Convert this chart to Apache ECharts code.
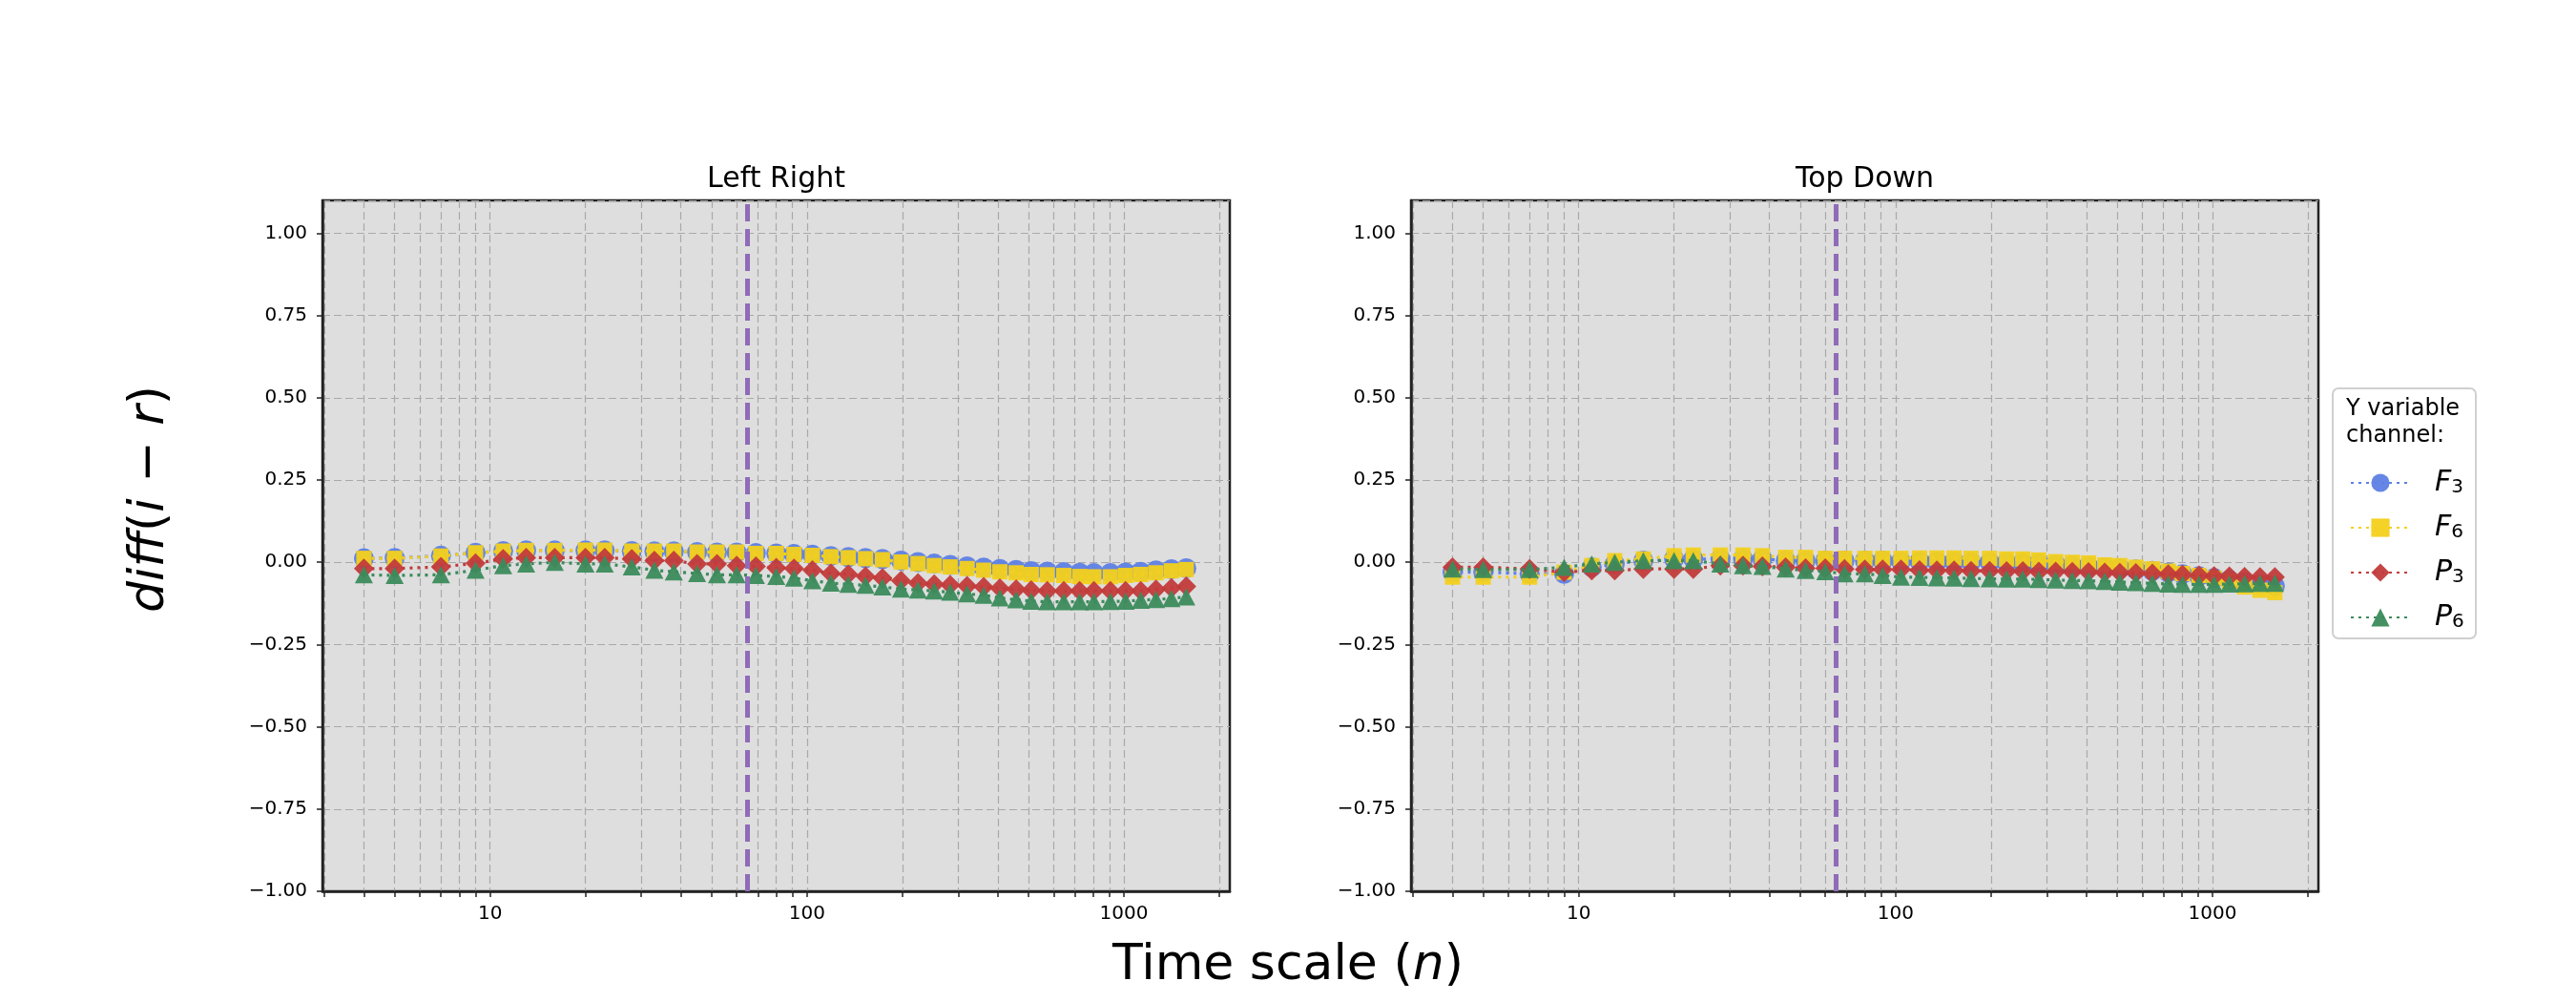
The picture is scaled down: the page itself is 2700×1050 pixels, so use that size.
<!DOCTYPE html>
<html>
<head>
<meta charset="utf-8">
<script src="https://cdn.jsdelivr.net/npm/echarts@6/dist/echarts.min.js"></script>
<style>
  html, body { margin: 0; padding: 0; background: #fff; }
  #chart { width: 2700px; height: 1050px; }
</style>
</head>
<body>
<div id="chart"></div>
<script>
// time scales (n)
var scales = [4, 5, 7, 9, 11, 13, 16, 20, 23, 28, 33, 38, 45, 52, 60, 69, 80, 91, 104, 119, 135,
  153, 173, 198, 224, 252, 283, 320, 361, 406, 457, 510, 573, 646, 725, 804, 906, 1012, 1130, 1262, 1412, 1573];

// Left Right panel
var lrF3 = [0.012, 0.013, 0.020, 0.029, 0.034, 0.036, 0.036, 0.036, 0.036, 0.034, 0.033, 0.033, 0.031, 0.030,
  0.030, 0.028, 0.027, 0.025, 0.023, 0.019, 0.016, 0.013, 0.010, 0.005, 0.001, -0.004, -0.008, -0.012, -0.016,
  -0.020, -0.023, -0.027, -0.028, -0.030, -0.032, -0.033, -0.033, -0.031, -0.029, -0.025, -0.021, -0.018];
var lrF6 = [0.012, 0.012, 0.019, 0.029, 0.034, 0.036, 0.036, 0.037, 0.037, 0.034, 0.034, 0.034, 0.031, 0.031,
  0.031, 0.027, 0.027, 0.024, 0.021, 0.017, 0.014, 0.011, 0.008, 0.001, -0.004, -0.010, -0.014, -0.019, -0.024,
  -0.029, -0.032, -0.037, -0.038, -0.040, -0.043, -0.044, -0.044, -0.040, -0.037, -0.032, -0.026, -0.022];
var lrP3 = [-0.019, -0.019, -0.014, -0.003, 0.010, 0.014, 0.014, 0.014, 0.014, 0.010, 0.005, 0.005, -0.005, -0.005,
  -0.010, -0.012, -0.017, -0.019, -0.024, -0.034, -0.037, -0.043, -0.048, -0.056, -0.063, -0.067, -0.069, -0.072,
  -0.075, -0.079, -0.082, -0.085, -0.087, -0.087, -0.087, -0.087, -0.087, -0.087, -0.087, -0.083, -0.078, -0.073];
var lrP6 = [-0.038, -0.040, -0.038, -0.024, -0.010, -0.005, 0.000, -0.005, -0.005, -0.014, -0.024, -0.029, -0.034,
  -0.038, -0.038, -0.040, -0.043, -0.048, -0.056, -0.063, -0.067, -0.070, -0.075, -0.081, -0.084, -0.087, -0.091,
  -0.096, -0.100, -0.108, -0.114, -0.118, -0.120, -0.120, -0.120, -0.120, -0.119, -0.118, -0.115, -0.113, -0.110, -0.105];

// Top Down panel
var tdF3 = [-0.030, -0.030, -0.035, -0.035, -0.015, -0.005, 0.005, 0.010, 0.010, 0.010, 0.010, 0.010, 0.005, 0.005,
  0.005, 0.005, 0.005, 0.005, 0.003, 0.003, 0.002, 0.002, 0.001, 0.000, -0.001, -0.002, -0.004, -0.007, -0.010,
  -0.012, -0.015, -0.018, -0.022, -0.026, -0.031, -0.036, -0.042, -0.048, -0.054, -0.060, -0.066, -0.072];
var tdF6 = [-0.045, -0.045, -0.045, -0.030, -0.010, 0.005, 0.010, 0.020, 0.022, 0.022, 0.022, 0.020, 0.015, 0.015,
  0.012, 0.012, 0.012, 0.012, 0.012, 0.013, 0.013, 0.013, 0.012, 0.012, 0.010, 0.010, 0.007, 0.002, 0.000,
  -0.002, -0.008, -0.010, -0.015, -0.020, -0.027, -0.034, -0.040, -0.048, -0.058, -0.075, -0.085, -0.092];
var tdP3 = [-0.015, -0.015, -0.020, -0.030, -0.025, -0.025, -0.020, -0.020, -0.020, -0.010, -0.010, -0.012, -0.015,
  -0.018, -0.018, -0.020, -0.022, -0.022, -0.022, -0.024, -0.025, -0.025, -0.026, -0.026, -0.027, -0.027, -0.028,
  -0.028, -0.029, -0.030, -0.031, -0.032, -0.033, -0.034, -0.036, -0.038, -0.040, -0.042, -0.043, -0.044, -0.045, -0.045];
var tdP6 = [-0.020, -0.022, -0.022, -0.015, -0.005, 0.000, 0.005, 0.005, 0.005, -0.005, -0.010, -0.012, -0.020,
  -0.025, -0.028, -0.035, -0.035, -0.040, -0.045, -0.046, -0.047, -0.048, -0.049, -0.050, -0.051, -0.051, -0.052,
  -0.054, -0.055, -0.056, -0.058, -0.060, -0.062, -0.064, -0.066, -0.067, -0.067, -0.067, -0.066, -0.065, -0.064, -0.064];

var panelTitles = ['Left Right', 'Top Down'];
var refScale = 65;
var xLabelValues = [10, 100, 1000];
var xTickValues = [3, 4, 5, 6, 7, 8, 9, 10, 20, 30, 40, 50, 60, 70, 80, 90, 100,
  200, 300, 400, 500, 600, 700, 800, 900, 1000, 2000];

var chart = echarts.init(document.getElementById('chart'));
var FONT = 'DejaVu Sans';
var colors = { F3: '#5d80e4', F6: '#f3d01c', P3: '#c23b3b', P6: '#3b8b5c' };
var symbols = { F3: ['circle', 21], F6: ['rect', 16], P3: ['diamond', 21], P6: ['triangle', [19, 18]] };

function pairs(ys) {
  return scales.map(function (x, i) { return [x, ys[i]]; });
}

var grids = [
  { left: 338, top: 210, width: 951, height: 724 },
  { left: 1479, top: 210, width: 951, height: 724 }
];

var xAxes = [], yAxes = [];
grids.forEach(function (g, i) {
  g.show = true;
  g.backgroundColor = '#dedede';
  g.borderColor = '#222';
  g.borderWidth = 2.5;
  xAxes.push({
    gridIndex: i, type: 'log', logBase: 10, min: 2.96, max: 2158,
    axisLine: { show: true, onZero: false, lineStyle: { color: '#222', width: 2.5 } },
    axisTick: { show: true, customValues: xTickValues, length: 6, lineStyle: { color: '#222', width: 1.5 } },
    axisLabel: {
      customValues: xLabelValues, fontSize: 20, color: '#000', margin: 14, fontFamily: FONT,
      formatter: function (v) { return String(Math.round(v)); }
    },
    splitLine: { show: true, lineStyle: { color: '#a9a9a9', width: 1.2, type: [8, 4] } }
  });
  yAxes.push({
    gridIndex: i, type: 'value', min: -1, max: 1.1, interval: 0.25,
    axisLine: { show: true, onZero: false, lineStyle: { color: '#222', width: 2.5 } },
    axisTick: { show: true, length: 6, lineStyle: { color: '#222', width: 1.5 } },
    axisLabel: {
      fontSize: 20, color: '#000', margin: 16, fontFamily: FONT, showMaxLabel: false,
      formatter: function (v) { return v > 1.05 ? '' : v.toFixed(2).replace('-', '\u2212'); }
    },
    splitLine: { show: true, lineStyle: { color: '#a9a9a9', width: 1.2, type: [8, 4] } }
  });
});

var panels = [
  { F3: lrF3, F6: lrF6, P3: lrP3, P6: lrP6 },
  { F3: tdF3, F6: tdF6, P3: tdP3, P6: tdP6 }
];
var series = [];
panels.forEach(function (p, i) {
  ['F3', 'F6', 'P3', 'P6'].forEach(function (name, k) {
    var s = {
      name: name, type: 'line', xAxisIndex: i, yAxisIndex: i,
      data: pairs(p[name]),
      symbol: symbols[name][0], symbolSize: symbols[name][1],
      itemStyle: { color: colors[name], opacity: 0.95 },
      lineStyle: { color: colors[name], width: 3.2, type: [3, 5] },
      emphasis: { disabled: true },
      z: 3 + k
    };
    if (k === 0) {
      s.markLine = {
        silent: true, symbol: 'none', label: { show: false },
        lineStyle: { color: '#8f6bb8', width: 5, type: [18, 8] },
        data: [{ xAxis: refScale }],
        z: 10
      };
    }
    series.push(s);
  });
});

var option = {
  animation: false,
  backgroundColor: '#fff',
  textStyle: { fontFamily: FONT },
  grid: grids,
  xAxis: xAxes,
  yAxis: yAxes,
  legend: {
    data: ['F3', 'F6', 'P3', 'P6'],
    orient: 'vertical', left: 2458, top: 486,
    itemWidth: 62, itemHeight: 24, itemGap: 17,
    selectedMode: false,
    formatter: function (name) { return '{f|' + name.charAt(0) + '}{s|' + name.charAt(1) + '}'; },
    textStyle: {
      rich: {
        f: { fontSize: 30, fontStyle: 'italic', fontFamily: FONT, color: '#000', lineHeight: 30, padding: [0, 0, 0, 21] },
        s: { fontSize: 20, fontFamily: FONT, color: '#000', lineHeight: 14, verticalAlign: 'bottom' }
      }
    }
  },
  graphic: [
    { type: 'rect', shape: { x: 2445, y: 407, width: 150, height: 262, r: 6 },
      style: { fill: '#fff', stroke: '#d0d0d0', lineWidth: 2 }, z: -1 },
    { type: 'text', x: 2459, y: 415,
      style: { text: 'Y variable\nchannel:', font: '24px "DejaVu Sans"', fill: '#000', lineHeight: 28 } },
    { type: 'text', x: 813.5, y: 188,
      style: { text: panelTitles[0], font: '30px "DejaVu Sans"', fill: '#000', align: 'center', verticalAlign: 'middle' } },
    { type: 'text', x: 1954.5, y: 188,
      style: { text: panelTitles[1], font: '30px "DejaVu Sans"', fill: '#000', align: 'center', verticalAlign: 'middle' } },
    { type: 'text', x: 1350, y: 1012,
      style: {
        text: '{u|Time scale (}{i|n}{u|)}', align: 'center', verticalAlign: 'middle',
        rich: {
          u: { fontSize: 52, fontFamily: FONT, fill: '#000' },
          i: { fontSize: 52, fontFamily: FONT, fontStyle: 'italic', fill: '#000' }
        }
      } },
    { type: 'text', x: 157, y: 523, rotation: Math.PI / 2,
      style: {
        text: '{i|diff}{u|(}{i|i}{u| \u2212 }{i|r}{u|)}', align: 'center', verticalAlign: 'middle',
        rich: {
          u: { fontSize: 52, fontFamily: FONT, fill: '#000' },
          i: { fontSize: 52, fontFamily: FONT, fontStyle: 'italic', fill: '#000' }
        }
      } }
  ],
  series: series
};
chart.setOption(option);
</script>
</body>
</html>
